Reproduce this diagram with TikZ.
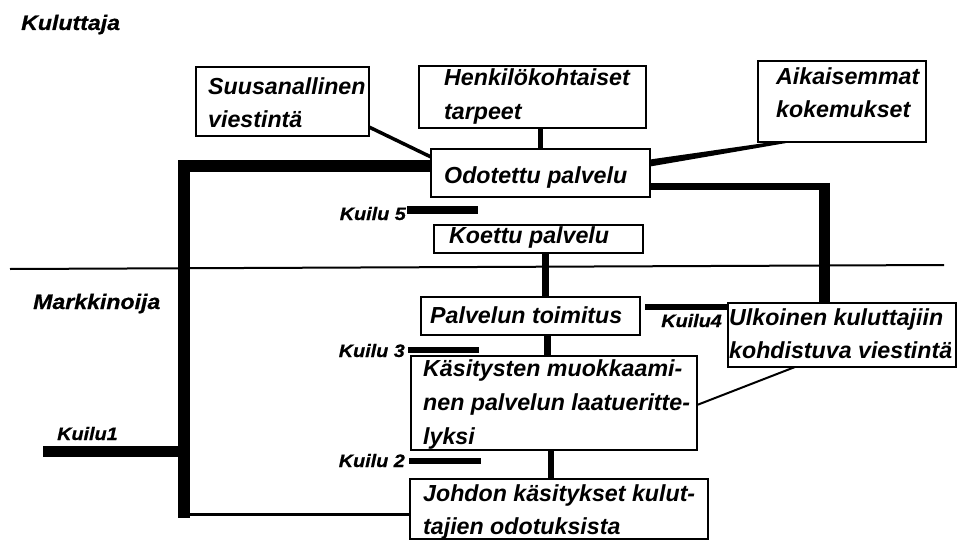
\documentclass[tikz,border=0pt]{standalone}
\usepackage{fontspec}
\setmainfont{Liberation Sans}
\newfontface\boxfont{Liberation Sans Bold Italic}
\newfontface\labelfont{Liberation Sans Bold Italic}[FakeStretch=1.1,FakeBold=0.6]
\begin{document}
\begin{tikzpicture}[x=1pt,y=-1pt,
  box/.style={draw, line width=2.6pt, inner sep=0pt, outer sep=0pt, anchor=north west},
  boxtext/.style={inner sep=0pt, anchor=base west, font=\fontsize{23.2}{28}\boxfont},
  sidetext/.style={inner sep=0pt, anchor=base west, font=\fontsize{21}{26}\labelfont},
  gaptext/.style={inner sep=0pt, anchor=base east, font=\fontsize{18}{22}\labelfont},
  gapbar/.style={line width=6pt},
  heavyrule/.style={line width=12pt, line join=miter},
  thinrule/.style={line width=2pt},
]
\useasboundingbox (0,0) rectangle (957,540);

% consumer / marketer division
\draw[line width=2pt] (10,269) -- (944,265);
\node[sidetext] (kul) at (21,30) {Kuluttaja};
\node[sidetext] (mar) at (33,309) {Markkinoija};

% boxes
\node[box, minimum width=173pt, minimum height=69pt] (suus) at (196,67) {};
\node[box, minimum width=227pt, minimum height=62pt] (henk) at (419,66) {};
\node[box, minimum width=168pt, minimum height=81pt] (aika) at (758,61) {};
\node[box, minimum width=219pt, minimum height=48pt] (odot) at (431,149) {};
\node[box, minimum width=209pt, minimum height=28pt] (koet) at (434,225) {};
\node[box, minimum width=219pt, minimum height=38pt] (palv) at (421,297) {};
\node[box, minimum width=228pt, minimum height=64pt] (ulko) at (728,303) {};
\node[box, minimum width=286pt, minimum height=94pt] (kasi) at (411,356) {};
\node[box, minimum width=298pt, minimum height=60pt] (johd) at (410,479) {};

% box texts, each kept inside its frame
\begin{scope}
  \clip (suus.north west) rectangle (suus.south east);
  \node[boxtext] (suus1) at (208,95) {Suusanallinen};
  \node[boxtext] (suus2) at (208,128) {viestintä};
\end{scope}
\begin{scope}
  \clip (henk.north west) rectangle (henk.south east);
  \node[boxtext] (henk1) at (444,86) {Henkilökohtaiset};
  \node[boxtext] (henk2) at (444,120) {tarpeet};
\end{scope}
\begin{scope}
  \clip (aika.north west) rectangle (aika.south east);
  \node[boxtext] (aika1) at (776,85) {Aikaisemmat};
  \node[boxtext] (aika2) at (776,118) {kokemukset};
\end{scope}
\begin{scope}
  \clip (odot.north west) rectangle (odot.south east);
  \node[boxtext] (odot1) at (444,183) {Odotettu palvelu};
\end{scope}
\begin{scope}
  \clip (koet.north west) rectangle (koet.south east);
  \node[boxtext] (koet1) at (449,243) {Koettu palvelu};
\end{scope}
\begin{scope}
  \clip (palv.north west) rectangle (palv.south east);
  \node[boxtext] (palv1) at (430,323) {Palvelun toimitus};
\end{scope}
\begin{scope}
  \clip (ulko.north west) rectangle (ulko.south east);
  \node[boxtext] (ulko1) at (729,325) {Ulkoinen kuluttajiin};
  \node[boxtext] (ulko2) at (729,358) {kohdistuva viestintä};
\end{scope}
\begin{scope}
  \clip (kasi.north west) rectangle (kasi.south east);
  \node[boxtext] (kasi1) at (423,376) {Käsitysten muokkaami-};
  \node[boxtext] (kasi2) at (423,410) {nen palvelun laatueritte-};
  \node[boxtext] (kasi3) at (423,444) {lyksi};
\end{scope}
\begin{scope}
  \clip (johd.north west) rectangle (johd.south east);
  \node[boxtext] (johd1) at (423,501) {Johdon käsitykset kulut-};
  \node[boxtext] (johd2) at (423,534) {tajien odotuksista};
\end{scope}

% links into the expected service
\draw[line width=3.5pt] ([yshift=9pt]suus.south east) -- ([yshift=-8pt]odot.north west);
\draw[line width=5pt] (odot.north |- henk.south) -- (odot.north);
\fill ([yshift=-10.5pt]odot.north east) -- ([xshift=14pt]aika.south west)
  -- ([xshift=34pt]aika.south west) -- ([yshift=-17.5pt]odot.north east) -- cycle;

% left frame: gap 1 between expectations and management perceptions
\coordinate (cornerTL) at (184,166);
\coordinate (cornerBL) at (184,514);
\draw[heavyrule] (odot.west |- cornerTL) -- (cornerTL) -- ([yshift=-4pt]cornerBL);
\draw[line width=3pt] (cornerBL) -- (cornerBL -| johd.west);

% right frame: from expected service to external communication
\coordinate (cornerTR) at (824,186.5);
\draw[line width=7.5pt] (odot.east |- cornerTR) -- ([xshift=5.5pt]cornerTR);
\draw[line width=11pt] ([yshift=3.75pt]cornerTR) -- (cornerTR |- ulko.north);

% service chain
\draw[line width=7pt] ([xshift=6.5pt]koet.south) -- ([xshift=6.5pt]koet.south |- palv.north);
\draw[line width=7pt] ([xshift=16.5pt]palv.south) -- ([xshift=16.5pt]palv.south |- kasi.north);
\draw[line width=6pt] ([xshift=-3pt]kasi.south) -- ([xshift=-3pt]kasi.south |- johd.north);
\draw[thinrule] ([xshift=67pt]ulko.south west) -- ([yshift=-2pt]kasi.east);

% gaps
\node[gaptext] (g5) at (406,220) {Kuilu 5};
\coordinate (g5a) at (407,210);
\draw[line width=8pt] (g5a) -- ++(71,0);

\node[gaptext] (g3) at (405,357) {Kuilu 3};
\coordinate (g3a) at (408,350);
\draw[gapbar] (g3a) -- ++(71,0);

\node[gaptext] (g2) at (405,467) {Kuilu 2};
\coordinate (g2a) at (409,461);
\draw[gapbar] (g2a) -- ++(72,0);

\node[gaptext] (g4) at (722,327) {Kuilu4};
\coordinate (g4a) at (645,307);
\draw[gapbar] (g4a) -- (g4a -| ulko.west);

\node[gaptext, anchor=base west] (g1) at (57,440) {Kuilu1};
\coordinate (g1a) at (43,451);
\draw[line width=11pt] (g1a) -- (g1a -| cornerBL);
\end{tikzpicture}
\end{document}
